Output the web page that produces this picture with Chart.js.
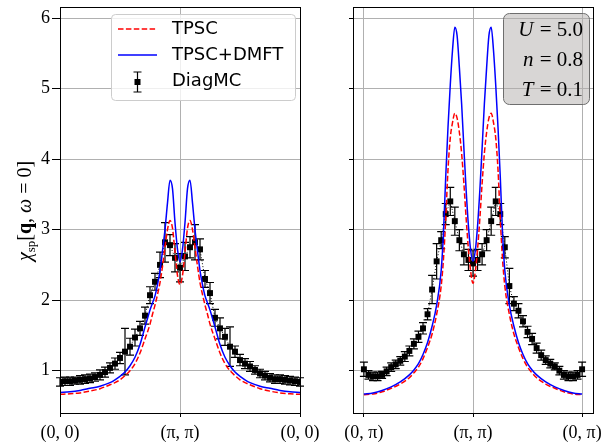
<!DOCTYPE html>
<html>
<head>
<meta charset="utf-8">
<script src="https://cdn.jsdelivr.net/npm/chart.js@4.4.1/dist/chart.umd.min.js"></script>
<style>
  body { margin: 0; background: #fff; }
  #wrap { position: relative; width: 614px; height: 445px; }
  #wrap canvas { position: absolute; left: 0; top: 0; }
</style>
</head>
<body>
<div id="wrap">
  <canvas id="leftPanel" width="614" height="445"></canvas>
  <canvas id="rightPanel" width="614" height="445"></canvas>
</div>
<script>
// k-point index along each cut (48 steps), ticks at the high-symmetry points
const kTicks = [0, 24, 48]
const leftTickLabels = ['(0, 0)', '(π, π)', '(0, 0)']
const rightTickLabels = ['(0, π)', '(π, π)', '(0, π)']
const yTicks = [1, 2, 3, 4, 5, 6]

// DiagMC, one value per k-point (index 0..48) with its error bar
const diagLeft = [0.84, 0.85, 0.85, 0.86, 0.87, 0.88, 0.89, 0.91, 0.94, 0.98, 1.04, 1.10, 1.18, 1.27, 1.34, 1.47, 1.60, 1.78, 2.07, 2.26, 2.50, 2.82, 2.78, 2.60, 2.46,
                  2.62, 2.75, 2.82, 2.72, 2.30, 2.10, 1.75, 1.60, 1.48, 1.34, 1.27, 1.15, 1.10, 1.06, 1.01, 0.96, 0.93, 0.90, 0.88, 0.88, 0.87, 0.86, 0.85, 0.84]
const diagLeftErr = [0.06, 0.06, 0.06, 0.05, 0.06, 0.06, 0.06, 0.06, 0.07, 0.07, 0.07, 0.08, 0.08, 0.33, 0.12, 0.12, 0.10, 0.12, 0.12, 0.12, 0.18, 0.28, 0.15, 0.20, 0.20,
                     0.20, 0.15, 0.25, 0.15, 0.12, 0.15, 0.12, 0.15, 0.12, 0.28, 0.08, 0.08, 0.07, 0.07, 0.06, 0.06, 0.06, 0.06, 0.06, 0.06, 0.06, 0.06, 0.06, 0.06]
const diagRight = [1.02, 0.94, 0.92, 0.92, 0.94, 0.99, 1.05, 1.09, 1.14, 1.20, 1.28, 1.38, 1.48, 1.60, 1.80, 2.15, 2.55, 2.85, 3.22, 3.40, 3.12, 2.85, 2.65, 2.57, 2.52,
                   2.57, 2.65, 2.85, 3.12, 3.40, 3.22, 2.75, 2.20, 1.95, 1.85, 1.70, 1.55, 1.45, 1.32, 1.22, 1.15, 1.10, 1.06, 1.00, 0.94, 0.92, 0.92, 0.94, 1.02]
const diagRightErr = [0.10, 0.06, 0.06, 0.06, 0.05, 0.06, 0.06, 0.06, 0.06, 0.07, 0.07, 0.07, 0.08, 0.08, 0.08, 0.20, 0.25, 0.12, 0.15, 0.20, 0.20, 0.15, 0.15, 0.15, 0.18,
                      0.15, 0.15, 0.15, 0.20, 0.20, 0.15, 0.15, 0.25, 0.10, 0.10, 0.08, 0.08, 0.08, 0.07, 0.07, 0.06, 0.06, 0.05, 0.06, 0.06, 0.06, 0.06, 0.06, 0.10]

// TPSC / TPSC+DMFT curves, sampled more densely around the peaks
const curveK = [0, 2, 4, 6, 8, 10, 11, 12, 13, 14, 15, 16, 17, 17.5, 18, 18.5, 19, 19.5, 20, 20.5, 21, 21.5, 22, 22.5, 23, 23.5, 24,
                24.5, 25, 25.5, 26, 26.5, 27, 27.5, 28, 28.5, 29, 29.5, 30, 30.5, 31, 32, 33, 34, 35, 36, 37, 38, 40, 42, 44, 46, 48]
const dmftLeft = [0.69, 0.70, 0.72, 0.75, 0.78, 0.83, 0.87, 0.92, 0.98, 1.07, 1.19, 1.37, 1.62, 1.74, 1.86, 1.96, 2.06, 2.22, 2.42, 2.70, 3.00, 3.38, 3.70, 3.58, 3.10, 2.72, 2.54,
                  2.72, 3.10, 3.58, 3.70, 3.38, 3.00, 2.70, 2.42, 2.22, 2.06, 1.96, 1.86, 1.74, 1.62, 1.37, 1.19, 1.07, 0.98, 0.92, 0.87, 0.83, 0.78, 0.75, 0.72, 0.70, 0.69]
const tpscLeft = [0.665, 0.672, 0.685, 0.71, 0.745, 0.80, 0.83, 0.87, 0.93, 1.00, 1.10, 1.25, 1.45, 1.55, 1.66, 1.80, 1.93, 2.08, 2.25, 2.48, 2.75, 3.00, 3.13, 3.02, 2.68, 2.35, 2.22,
                  2.35, 2.68, 3.02, 3.13, 3.00, 2.75, 2.48, 2.25, 2.08, 1.93, 1.80, 1.66, 1.55, 1.45, 1.25, 1.10, 1.00, 0.93, 0.87, 0.83, 0.80, 0.745, 0.71, 0.685, 0.672, 0.665]
const dmftRight = [0.67, 0.685, 0.72, 0.77, 0.84, 0.94, 1.01, 1.10, 1.23, 1.40, 1.63, 1.93, 2.42, 2.95, 3.75, 4.45, 5.05, 5.55, 5.87, 5.75, 5.30, 4.78, 4.15, 3.55, 3.05, 2.70, 2.55,
                   2.70, 3.05, 3.55, 4.15, 4.78, 5.30, 5.75, 5.87, 5.55, 5.05, 4.45, 3.75, 2.95, 2.42, 1.93, 1.63, 1.40, 1.23, 1.10, 1.01, 0.94, 0.84, 0.77, 0.72, 0.685, 0.67]
const tpscRight = [0.66, 0.67, 0.70, 0.75, 0.81, 0.90, 0.97, 1.05, 1.17, 1.33, 1.52, 1.80, 2.20, 2.58, 3.15, 3.85, 4.30, 4.52, 4.65, 4.58, 4.38, 4.08, 3.65, 3.15, 2.72, 2.40, 2.24,
                   2.40, 2.72, 3.15, 3.65, 4.08, 4.38, 4.58, 4.65, 4.52, 4.30, 3.85, 3.15, 2.58, 2.20, 1.80, 1.52, 1.33, 1.17, 1.05, 0.97, 0.90, 0.81, 0.75, 0.70, 0.67, 0.66]

const params = [['U', '5.0'], ['n', '0.8'], ['T', '0.1']]

const SERIF = '"Liberation Serif", "DejaVu Serif", serif'
const SANS = '"DejaVu Sans", sans-serif'
const GRID = '#b0b0b0'

function pts(xs, ys) { return ys.map((y, i) => ({ x: xs[i], y })) }

// black box around the axes
const frame = {
  id: 'frame',
  afterDraw(chart) {
    const { ctx, chartArea: a } = chart
    ctx.save()
    ctx.strokeStyle = '#000'
    ctx.lineWidth = 1
    ctx.strokeRect(Math.round(a.left) + 0.5, Math.round(a.top) + 0.5, Math.round(a.right - a.left), Math.round(a.bottom - a.top))
    ctx.restore()
  }
}

// vertical error bars with caps for the DiagMC points
const errorBars = {
  id: 'errorBars',
  beforeDatasetsDraw(chart, args, opts) {
    const { ctx } = chart
    const xs = chart.scales.x, ys = chart.scales.y
    ctx.save()
    ctx.strokeStyle = '#000'
    ctx.lineWidth = 1.2
    opts.values.forEach((v, i) => {
      const px = xs.getPixelForValue(i)
      const top = ys.getPixelForValue(v + opts.errors[i])
      const bot = ys.getPixelForValue(v - opts.errors[i])
      ctx.beginPath()
      ctx.moveTo(px, top); ctx.lineTo(px, bot)
      ctx.moveTo(px - 4, top); ctx.lineTo(px + 4, top)
      ctx.moveTo(px - 4, bot); ctx.lineTo(px + 4, bot)
      ctx.stroke()
    })
    ctx.restore()
  }
}

// rotated y title: chi_sp[q, omega = 0]
const yTitle = {
  id: 'yTitle',
  afterDraw(chart) {
    const { ctx } = chart
    const parts = [
      { t: 'χ', f: `italic 20px ${SERIF}`, dy: 0 },
      { t: 'sp', f: `13px ${SERIF}`, dy: 4 },
      { t: '[', f: `20px ${SERIF}`, dy: 0 },
      { t: 'q', f: `bold 20px ${SERIF}`, dy: 0 },
      { t: ', ', f: `20px ${SERIF}`, dy: 0 },
      { t: 'ω', f: `italic 20px ${SERIF}`, dy: 0 },
      { t: ' = 0]', f: `20px ${SERIF}`, dy: 0 }
    ]
    ctx.save()
    ctx.translate(31, 211)
    ctx.rotate(-Math.PI / 2)
    ctx.fillStyle = '#000'
    ctx.textBaseline = 'alphabetic'
    let total = 0
    parts.forEach(p => { ctx.font = p.f; p.w = ctx.measureText(p.t).width; total += p.w })
    let x = -total / 2
    parts.forEach(p => { ctx.font = p.f; ctx.fillText(p.t, x, p.dy); x += p.w })
    ctx.restore()
  }
}

function roundRect(ctx, x, y, w, h, r) {
  ctx.beginPath()
  ctx.moveTo(x + r, y)
  ctx.arcTo(x + w, y, x + w, y + h, r)
  ctx.arcTo(x + w, y + h, x, y + h, r)
  ctx.arcTo(x, y + h, x, y, r)
  ctx.arcTo(x, y, x + w, y, r)
  ctx.closePath()
}

const legendBox = {
  id: 'legendBox',
  afterDatasetsDraw(chart) {
    const { ctx } = chart
    ctx.save()
    roundRect(ctx, 111.5, 14.5, 184, 86, 4)
    ctx.fillStyle = 'rgba(255,255,255,0.8)'
    ctx.fill()
    ctx.strokeStyle = '#cccccc'
    ctx.lineWidth = 1
    ctx.stroke()

    ctx.lineWidth = 1.5
    ctx.strokeStyle = '#ff0000'
    ctx.setLineDash([5.5, 2.4])
    ctx.beginPath(); ctx.moveTo(118, 29); ctx.lineTo(157, 29); ctx.stroke()
    ctx.setLineDash([])
    ctx.strokeStyle = '#0000ff'
    ctx.beginPath(); ctx.moveTo(118, 55); ctx.lineTo(157, 55); ctx.stroke()

    ctx.strokeStyle = '#000'
    ctx.lineWidth = 1.2
    ctx.beginPath()
    ctx.moveTo(137.5, 72); ctx.lineTo(137.5, 92)
    ctx.moveTo(133.5, 72); ctx.lineTo(141.5, 72)
    ctx.moveTo(133.5, 92); ctx.lineTo(141.5, 92)
    ctx.stroke()
    ctx.fillStyle = '#000'
    ctx.fillRect(134.5, 79, 6, 6)

    ctx.font = `18px ${SANS}`
    ctx.textBaseline = 'middle'
    ctx.fillText('TPSC', 172, 29.5)
    ctx.fillText('TPSC+DMFT', 172, 55)
    ctx.fillText('DiagMC', 172, 81)
    ctx.restore()
  }
}

const paramBox = {
  id: 'paramBox',
  afterDatasetsDraw(chart) {
    const { ctx } = chart
    ctx.save()
    roundRect(ctx, 503.5, 13.5, 86, 91, 6)
    ctx.fillStyle = 'rgba(178,174,172,0.5)'
    ctx.fill()
    ctx.strokeStyle = '#6e6e6e'
    ctx.lineWidth = 1
    ctx.stroke()
    ctx.fillStyle = '#000'
    ctx.textBaseline = 'alphabetic'
    const baselines = [36, 66, 96]
    params.forEach(([name, val], i) => {
      ctx.font = `21px ${SERIF}`
      const rest = ' = ' + val
      const wr = ctx.measureText(rest).width
      ctx.fillText(rest, 583 - wr, baselines[i])
      ctx.font = `italic 21px ${SERIF}`
      const wn = ctx.measureText(name).width
      ctx.fillText(name, 583 - wr - wn - 1, baselines[i])
    })
    ctx.restore()
  }
}

function makePanel(id, cfg) {
  return new Chart(document.getElementById(id), {
    type: 'scatter',
    data: {
      datasets: [
        { label: 'TPSC+DMFT', type: 'line', data: pts(curveK, cfg.dmft), borderColor: '#0000ff', borderWidth: 1.5,
          pointRadius: 0, cubicInterpolationMode: 'monotone', fill: false },
        { label: 'TPSC', type: 'line', data: pts(curveK, cfg.tpsc), borderColor: '#ff0000', borderWidth: 1.5,
          borderDash: [5.5, 2.4], pointRadius: 0, cubicInterpolationMode: 'monotone', fill: false },
        { label: 'DiagMC', data: cfg.diag.map((y, i) => ({ x: i, y })), showLine: true, borderColor: '#000',
          borderWidth: 1, borderDash: [1, 2], pointStyle: 'rect', pointRadius: 4.2, pointBorderWidth: 0,
          pointBackgroundColor: '#000' }
      ]
    },
    options: {
      responsive: false,
      animation: false,
      events: [],
      devicePixelRatio: 1,
      layout: { padding: cfg.padding },
      plugins: {
        legend: { display: false },
        tooltip: { enabled: false },
        errorBars: { values: cfg.diag, errors: cfg.err }
      },
      scales: {
        x: {
          type: 'linear', min: cfg.xmin, max: cfg.xmax,
          afterBuildTicks: s => { s.ticks = kTicks.map(v => ({ value: v })) },
          afterFit: s => { s.height = 32; s.paddingLeft = 0; s.paddingRight = 0 },
          ticks: { callback: (v, i) => cfg.labels[i], font: { family: SERIF, size: 18 }, color: '#000',
                   padding: 5, maxRotation: 0, autoSkip: false },
          grid: { color: GRID, lineWidth: 1, tickLength: 4, tickColor: '#000' },
          border: { display: false }
        },
        y: {
          min: 0.4, max: 6.156,
          afterBuildTicks: s => { s.ticks = yTicks.map(v => ({ value: v })) },
          afterFit: s => { s.width = cfg.yWidth; s.paddingTop = 0; s.paddingBottom = 0 },
          ticks: { display: cfg.yLabels, font: { family: SERIF, size: 18 }, color: '#000', padding: 2 },
          grid: { color: GRID, lineWidth: 1, tickLength: cfg.tickLen, tickColor: '#000' },
          border: { display: false }
        }
      }
    },
    plugins: [errorBars, frame].concat(cfg.extra)
  })
}

makePanel('leftPanel', {
  dmft: dmftLeft, tpsc: tpscLeft, diag: diagLeft, err: diagLeftErr,
  labels: leftTickLabels, xmin: 0, xmax: 48,
  padding: { left: 0, right: 314, top: 7, bottom: 0 },
  yWidth: 60, yLabels: true, tickLen: 8,
  extra: [yTitle, legendBox]
})

makePanel('rightPanel', {
  dmft: dmftRight, tpsc: tpscRight, diag: diagRight, err: diagRightErr,
  labels: rightTickLabels, xmin: -2.4, xmax: 50.4,
  padding: { left: 305, right: 21, top: 7, bottom: 0 },
  yWidth: 48, yLabels: false, tickLen: 4,
  extra: [paramBox]
})
</script>
</body>
</html>
